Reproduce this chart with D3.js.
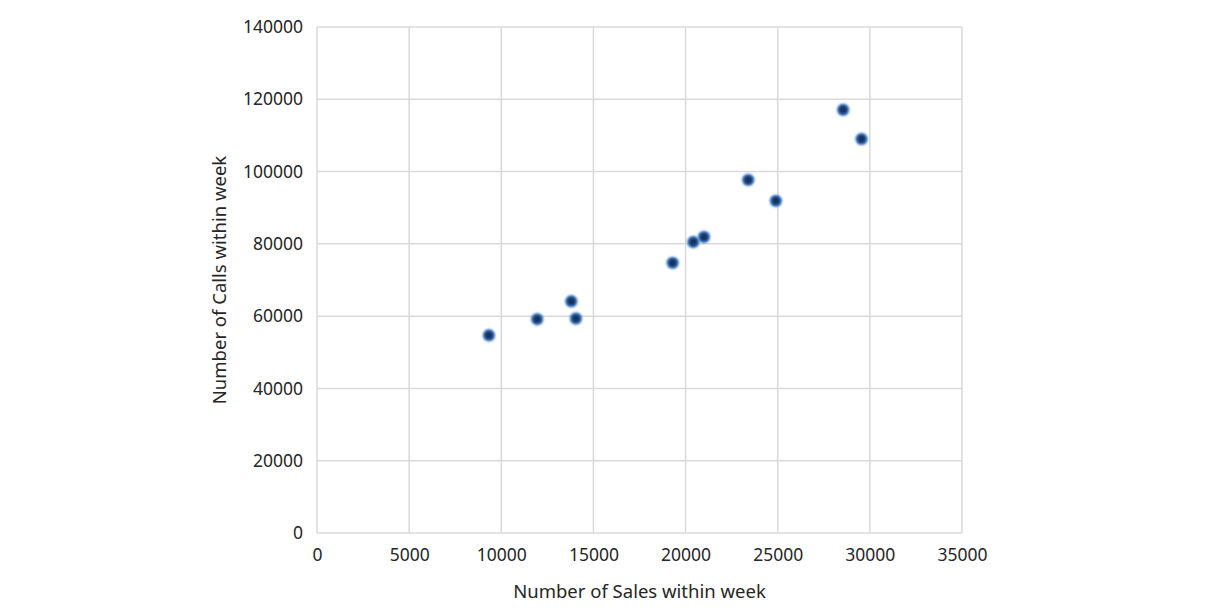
<!DOCTYPE html>
<html><head><meta charset="utf-8">
<script src="https://cdn.jsdelivr.net/npm/d3@7"></script>
<style>body{margin:0;background:#fff;} text{font-family:"Noto Sans","Open Sans",sans-serif;fill:#262626;}</style>
</head><body>
<svg id="c" width="1215" height="612"></svg>
<script>
const sales = [9330, 11950, 13800, 14050, 19300, 20420, 21000, 23400, 24900, 28550, 29550];
const calls = [54700, 59150, 64100, 59350, 74750, 80500, 81900, 97700, 91900, 117100, 109000];
const xTicks = [0,5000,10000,15000,20000,25000,30000,35000];
const yTicks = [0,20000,40000,60000,80000,100000,120000,140000];
const xTitle = "Number of Sales within week";
const yTitle = "Number of Calls within week";

const svg = d3.select("#c");
const L=317,R=962,T=27,B=533;
const x = d3.scaleLinear().domain([0,35000]).range([L,R]);
const y = d3.scaleLinear().domain([0,140000]).range([B,T]);

const defs = svg.append("defs");
const f = defs.append("filter").attr("id","glow").attr("x","-50%").attr("y","-50%").attr("width","200%").attr("height","200%");
f.append("feGaussianBlur").attr("stdDeviation",1.1);

const g = svg.append("g");
g.selectAll(".vg").data(xTicks).join("line")
 .attr("x1",d=>x(d)).attr("x2",d=>x(d)).attr("y1",T).attr("y2",B)
 .attr("stroke","#d9d9d9").attr("stroke-width",1.5);
g.selectAll(".hg").data(yTicks).join("line")
 .attr("y1",d=>y(d)).attr("y2",d=>y(d)).attr("x1",L).attr("x2",R)
 .attr("stroke","#d9d9d9").attr("stroke-width",1.5);

const xa = svg.append("g").attr("transform",`translate(0,${B})`)
 .call(d3.axisBottom(x).tickValues(xTicks).tickSize(0).tickPadding(16).tickFormat(d3.format("d")));
const ya = svg.append("g").attr("transform",`translate(${L},0)`)
 .call(d3.axisLeft(y).tickValues(yTicks).tickSize(0).tickPadding(14).tickFormat(d3.format("d")));
[xa,ya].forEach(a=>{a.select(".domain").remove();a.selectAll("text").style("font-size","17.5px").attr("fill","#333").style("font-family","'Noto Sans',sans-serif");});

const pts = sales.map((s,i)=>({s,c:calls[i]}));
const pg = svg.append("g");
pg.selectAll("circle.o").data(pts).join("circle")
 .attr("cx",d=>x(d.s)).attr("cy",d=>y(d.c)).attr("r",6.2)
 .attr("fill","#3d7cc9").attr("filter","url(#glow)");
pg.selectAll("circle.i").data(pts).join("circle")
 .attr("cx",d=>x(d.s)).attr("cy",d=>y(d.c)).attr("r",4)
 .attr("fill","#17325f").attr("filter","url(#glow)");

svg.append("text").attr("x",(L+R)/2).attr("y",598).attr("text-anchor","middle")
 .style("font-size","18.5px").text(xTitle);
svg.append("text").attr("transform",`translate(226,${(T+B)/2}) rotate(-90)`).attr("text-anchor","middle")
 .style("font-size","18.5px").text(yTitle);
</script>
</body></html>
